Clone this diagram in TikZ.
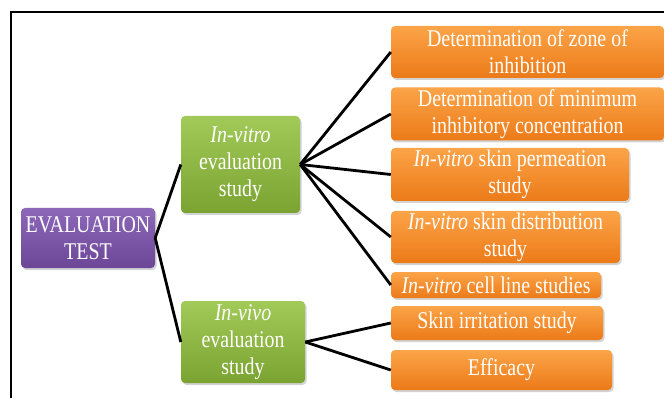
\documentclass[tikz,border=0pt]{standalone}
\usepackage{fontspec}
\setmainfont[FakeStretch=0.83]{Liberation Serif}
\usetikzlibrary{shadows,positioning}
\definecolor{evaltop}{HTML}{8D68B8}
\definecolor{evalbot}{HTML}{6C4798}
\definecolor{studytop}{HTML}{A2CA58}
\definecolor{studybot}{HTML}{7BA332}
\definecolor{testtop}{HTML}{FBA448}
\definecolor{testbot}{HTML}{EC7A18}

\begin{document}
\begin{tikzpicture}[x=1pt,y=-1pt,
  box/.style={rounded corners=4pt, inner sep=0pt, align=center, text=white,
    font=\fontsize{24}{27}\selectfont,
    drop shadow={shadow xshift=1.5pt, shadow yshift=-2pt, opacity=0.35}},
  evalbox/.style={box, top color=evaltop, bottom color=evalbot},
  studybox/.style={box, top color=studytop, bottom color=studybot},
  testbox/.style={box, top color=testtop, bottom color=testbot},
  link/.style={line width=2.8pt, black}]
\useasboundingbox (0,0) rectangle (664,398);
% frame
\draw[line width=2pt] (11,398) -- (11,12) -- (664,12);

% root
\node[evalbox, minimum width=134pt, minimum height=60pt] (eval) at (88,238) {EVALUATION\\TEST};

% studies
\node[studybox, minimum width=119pt, minimum height=97pt] (vitro) at (240.5,164.5) {\textit{In-vitro}\\evaluation\\study};
\node[studybox, minimum width=124pt, minimum height=82pt] (vivo) at (243,342) {\textit{In-vivo}\\evaluation\\study};

% in-vitro tests
\node[testbox, minimum width=273pt, minimum height=52pt] (zone) at (527.5,52) {Determination of zone of\\inhibition};
\node[testbox, minimum width=273pt, minimum height=53pt] (mic) at (527.5,114) {Determination of minimum\\inhibitory concentration};
\node[testbox, minimum width=238pt, minimum height=53pt] (perm) at (510,174.5) {\textit{In-vitro} skin permeation\\study};
\node[testbox, minimum width=229pt, minimum height=52pt] (distr) at (505.5,237) {\textit{In-vitro} skin distribution\\study};
\node[testbox, minimum width=210pt, minimum height=26pt] (cell) at (496,285) {\textit{In-vitro} cell line studies};

% in-vivo tests
\node[testbox, minimum width=212pt, minimum height=34pt] (irrit) at (497,323) {Skin irritation study};
\node[testbox, minimum width=221pt, minimum height=40pt] (effic) at (501.5,370) {Efficacy};

% links
\draw[link] (eval.east) -- (vitro.west);
\draw[link] (eval.east) -- (vivo.west);
\foreach \t in {zone,mic,perm,distr,cell}
  \draw[link] (vitro.east) -- (\t.west);
\foreach \t in {irrit,effic}
  \draw[link] (vivo.east) -- (\t.west);
\end{tikzpicture}
\end{document}
